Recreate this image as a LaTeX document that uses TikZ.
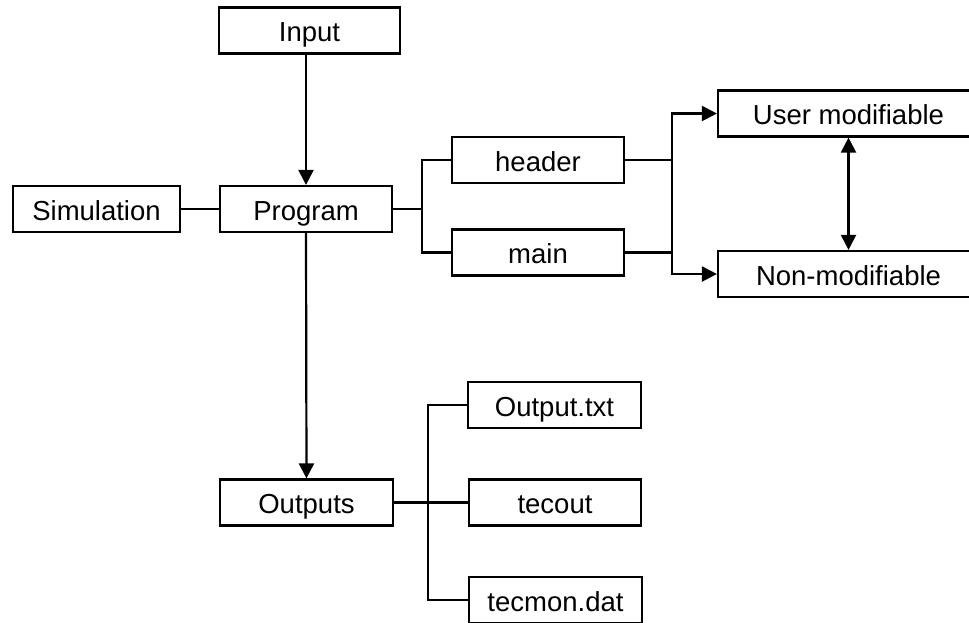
\documentclass[tikz,border=0pt]{standalone}
\usepackage{fontspec}
\setmainfont{Liberation Sans}
\usetikzlibrary{arrows.meta}
\begin{document}
\begin{tikzpicture}[x=1pt,y=-1pt,
  box/.style={draw=black,line width=2.2pt,rectangle,inner sep=0pt,minimum height=46pt,text height=22pt,text depth=0pt,font=\fontsize{27.5}{32}\selectfont},
  conn/.style={draw=black,line width=2.2pt},
  arr/.style={conn,-{Triangle[length=15pt,width=15pt]}},
  darr/.style={conn,{Triangle[length=15pt,width=15pt]}-{Triangle[length=15pt,width=15pt]}}]
\useasboundingbox (0,0) rectangle (969,622);
\clip (0,0) rectangle (969,622);
\fill[white] (0,0) rectangle (969,622);
\node[box,minimum width=181pt] (input) at (309.5,30.5) {Input};
\node[box,minimum width=167pt] (sim) at (96.5,209) {Simulation};
\node[box,minimum width=172pt] (prog) at (306,209) {Program};
\node[box,minimum width=172pt] (header) at (538,160) {header};
\node[box,minimum width=172pt] (main) at (538,252.5) {main};
\node[box,minimum width=261pt] (user) at (848.5,113.5) {User modifiable};
\node[box,minimum width=261pt] (non) at (848.5,274) {Non-modifiable};
\node[box,minimum width=173pt] (outs) at (306.5,502.5) {Outputs};
\node[box,minimum width=173pt] (otxt) at (554.5,405) {Output.txt};
\node[box,minimum width=172pt] (tecout) at (555,502.5) {tecout};
\node[box,minimum width=173pt] (tecmon) at (555.5,600) {tecmon.dat};
\coordinate (j1) at (422,209);
\coordinate (j2) at (672,200);
\coordinate (j3) at (428,502.5);
\draw[arr] (input.south -| prog.north) -- (prog.north);
\draw[conn] (sim.east) -- (prog.west);
\draw[conn] (prog.east) -- (j1);
\draw[conn] (header.west) -| (j1) |- (main.west);
\draw[conn] (header.east) -| (j2);
\draw[conn] (main.east) -| (j2);
\draw[arr] (j2) |- (user.west);
\draw[arr] (j2) |- (non.west);
\draw[darr] (user.south) -- (non.north);
\draw[arr] (prog.south) -- (outs.north);
\draw[conn] (outs.east) -- (tecout.west);
\draw[conn] (otxt.west) -| (j3) |- (tecmon.west);
\end{tikzpicture}
\end{document}
